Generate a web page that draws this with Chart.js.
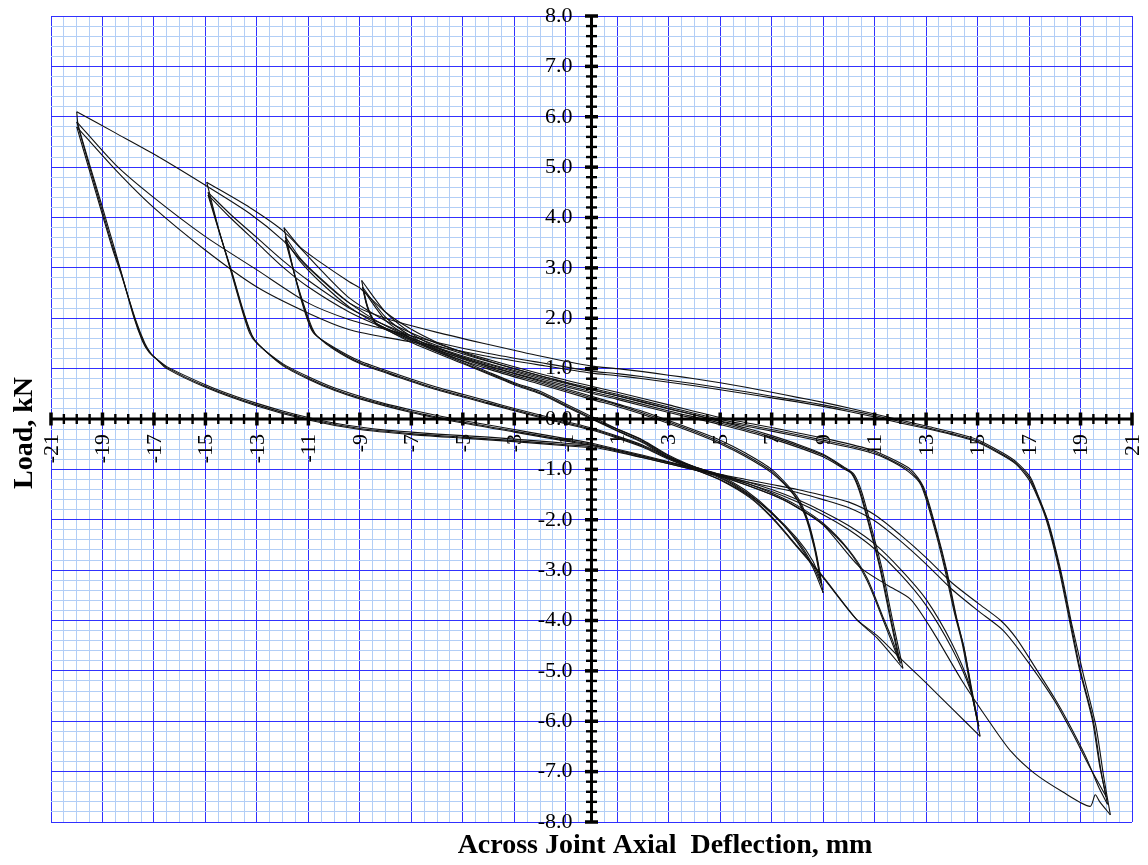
<!DOCTYPE html>
<html>
<head>
<meta charset="utf-8">
<script src="https://cdn.jsdelivr.net/npm/chart.js@4.4.1/dist/chart.umd.min.js"></script>
<style>
  html, body { margin: 0; padding: 0; background: #fff; overflow: hidden; }
  #wrap { width: 1148px; height: 865px; }
</style>
</head>
<body>
<div id="wrap"><canvas id="loadChart"></canvas></div>
<script>
// axis ranges and tick steps
const xRange = [-21, 21];
const yRange = [-8, 8];
const xStep = 0.5;
const yStep = 0.2;

// +/-9 mm cycles
const a9Lead = [[0.0,0.0],[1.0,-0.2],[2.0,-0.42],[3.0,-0.72],[4.0,-0.95],[5.0,-1.13],[6.0,-1.42],[7.0,-1.85],[8.0,-2.45],[8.6,-2.95],[9.0,-3.45]];
const a9Up1 = [[9.0,-3.45],[8.75,-2.7],[8.4,-2.0],[8.0,-1.55],[7.0,-1.0],[6.0,-0.68],[5.0,-0.42],[4.0,-0.22],[3.0,-0.03],[2.0,0.15],[1.0,0.3],[0.0,0.45],[-1.0,0.6],[-2.0,0.75],[-3.0,0.9],[-4.0,1.05],[-5.0,1.22],[-6.0,1.42],[-7.0,1.7],[-8.0,2.12],[-8.93,2.75]];
const a9Low1 = [[-8.93,2.75],[-8.75,2.3],[-8.45,1.95],[-8.2,1.85],[-7.0,1.58],[-6.0,1.36],[-5.0,1.15],[-4.0,0.93],[-3.0,0.72],[-2.0,0.55],[-1.0,0.3],[0.0,0.05],[1.0,-0.2],[2.0,-0.43],[3.0,-0.74],[4.0,-0.96],[5.0,-1.15],[6.0,-1.45],[7.0,-1.88],[8.0,-2.42],[8.6,-2.9],[8.95,-3.3]];
const a9Up2 = [[8.95,-3.3],[8.7,-2.62],[8.35,-1.96],[7.9,-1.52],[7.0,-1.04],[6.0,-0.72],[5.0,-0.46],[4.0,-0.25],[3.0,-0.06],[2.0,0.12],[1.0,0.28],[0.0,0.42],[-2.0,0.72],[-4.0,1.02],[-6.0,1.38],[-7.0,1.64],[-8.0,2.02],[-8.9,2.62]];
const a9Low2 = [[-8.9,2.62],[-8.7,2.2],[-8.4,1.9],[-8.1,1.8],[-7.0,1.55],[-5.0,1.12],[-3.0,0.7],[-2.0,0.52],[-1.0,0.27],[0.0,0.02],[1.0,-0.23],[2.0,-0.45],[3.0,-0.76],[4.0,-0.98],[5.0,-1.17],[6.0,-1.47],[7.0,-1.86],[8.0,-2.38],[8.6,-2.82],[8.9,-3.2]];
const a9Up3 = [[8.9,-3.2],[8.65,-2.55],[8.3,-1.92],[7.85,-1.5],[7.0,-1.07],[6.0,-0.75],[5.0,-0.49],[4.0,-0.28],[3.0,-0.09],[2.0,0.09],[1.0,0.25],[0.0,0.39],[-2.0,0.69],[-4.0,0.99],[-6.0,1.34],[-7.0,1.6],[-8.0,1.96],[-8.85,2.55]];
const a9Low3 = [[-8.85,2.55],[-8.65,2.15],[-8.35,1.87],[-8.0,1.78],[-7.0,1.52],[-5.0,1.1],[-3.0,0.68],[-2.0,0.5],[-1.0,0.25],[0.0,0.0],[1.0,-0.24],[2.0,-0.47],[3.0,-0.78],[4.0,-1.0],[5.0,-1.2],[6.15,-1.54],[7.0,-1.94],[8.0,-2.53],[9.0,-3.13],[10.3,-3.98],[11.1,-4.35],[12.1,-4.95]];

// +/-12 mm cycles
const a12Up1 = [[12.1,-4.95],[11.7,-4.0],[11.3,-3.0],[10.9,-2.2],[10.5,-1.45],[10.2,-1.1],[9.8,-0.95],[9.0,-0.7],[8.0,-0.5],[7.0,-0.33],[6.0,-0.18],[5.0,-0.05],[4.0,0.08],[3.0,0.2],[2.0,0.33],[1.0,0.46],[0.0,0.58],[-1.0,0.72],[-2.0,0.86],[-3.0,1.0],[-4.0,1.15],[-5.0,1.32],[-6.0,1.52],[-7.0,1.78],[-8.0,2.12],[-9.0,2.6],[-9.4,2.72],[-10.5,3.1],[-11.3,3.4],[-11.95,3.8]];
const a12Low1 = [[-11.95,3.8],[-11.6,3.0],[-11.3,2.4],[-10.95,1.85],[-10.75,1.68],[-10.0,1.42],[-9.0,1.15],[-7.5,0.88],[-6.0,0.63],[-5.0,0.49],[-4.0,0.35],[-3.0,0.21],[-2.0,0.08],[-1.0,-0.05],[0.0,-0.18],[1.0,-0.34],[2.0,-0.52],[3.0,-0.76],[4.0,-0.95],[5.0,-1.1],[6.0,-1.27],[7.0,-1.47],[8.0,-1.72],[9.0,-2.07],[10.0,-2.6],[10.7,-3.15],[11.3,-3.9],[11.7,-4.4],[12.0,-4.85]];
const a12Up2 = [[12.0,-4.85],[11.65,-4.0],[11.25,-3.0],[10.85,-2.2],[10.45,-1.45],[10.15,-1.1],[9.8,-0.97],[9.0,-0.72],[7.0,-0.36],[5.0,-0.08],[3.0,0.16],[1.0,0.42],[0.0,0.54],[-2.0,0.8],[-4.0,1.08],[-6.0,1.4],[-8.0,1.85],[-9.4,2.3],[-10.5,2.78],[-11.3,3.18],[-11.9,3.62]];
const a12Low2 = [[-11.9,3.62],[-11.55,2.9],[-11.25,2.35],[-10.9,1.82],[-10.7,1.66],[-10.0,1.4],[-9.0,1.12],[-7.5,0.85],[-6.0,0.6],[-4.0,0.32],[-2.0,0.05],[0.0,-0.2],[1.0,-0.36],[2.0,-0.54],[3.0,-0.78],[5.0,-1.12],[7.0,-1.5],[8.0,-1.76],[9.0,-2.1],[10.0,-2.62],[10.7,-3.2],[11.3,-3.95],[11.95,-4.8]];
const a12Up3 = [[11.95,-4.8],[11.6,-3.95],[11.2,-2.95],[10.8,-2.15],[10.4,-1.42],[10.1,-1.08],[9.8,-0.99],[9.0,-0.75],[7.0,-0.39],[5.0,-0.11],[3.0,0.13],[1.0,0.39],[0.0,0.51],[-2.0,0.77],[-4.0,1.05],[-6.0,1.37],[-8.0,1.8],[-9.4,2.22],[-10.5,2.7],[-11.3,3.12],[-11.9,3.55]];
const a12Low3 = [[-11.9,3.55],[-11.5,2.8],[-11.2,2.3],[-10.85,1.8],[-10.65,1.64],[-10.0,1.38],[-9.0,1.1],[-7.5,0.83],[-6.0,0.58],[-4.0,0.3],[-2.0,0.03],[0.0,-0.22],[1.0,-0.38],[2.0,-0.56],[3.0,-0.8],[4.0,-1.0],[5.0,-1.21],[6.15,-1.56],[7.0,-1.96],[8.0,-2.55],[9.0,-3.15],[10.3,-3.98],[11.1,-4.3],[12.0,-4.75],[13.0,-5.24],[14.05,-5.77],[15.1,-6.3]];

// +/-15 mm cycles
const a15Up1 = [[15.1,-6.3],[14.8,-5.5],[14.5,-4.6],[14.2,-3.98],[13.8,-3.0],[13.4,-2.2],[12.9,-1.35],[12.4,-1.0],[11.5,-0.75],[10.8,-0.6],[9.0,-0.38],[7.0,-0.17],[5.0,0.03],[3.0,0.28],[1.0,0.53],[0.0,0.65],[-2.0,0.9],[-4.0,1.18],[-6.0,1.5],[-8.0,1.95],[-9.4,2.4],[-10.5,2.95],[-11.95,3.72],[-13.28,4.2],[-14.95,4.7]];
const a15Low1 = [[-14.95,4.7],[-14.5,3.8],[-14.06,3.02],[-13.6,2.2],[-13.28,1.7],[-13.0,1.5],[-12.0,1.1],[-11.0,0.84],[-10.0,0.62],[-9.0,0.45],[-8.0,0.3],[-7.0,0.18],[-6.0,0.07],[-5.0,-0.03],[-4.0,-0.12],[-3.0,-0.21],[-2.0,-0.3],[-1.0,-0.39],[0.0,-0.48],[1.0,-0.6],[2.0,-0.72],[3.0,-0.85],[4.0,-0.98],[5.0,-1.1],[6.0,-1.24],[7.0,-1.4],[8.0,-1.6],[9.0,-1.84],[10.0,-2.12],[11.0,-2.48],[12.0,-2.98],[13.0,-3.58],[14.0,-4.45],[14.7,-5.3],[15.05,-6.1]];
const a15Up2 = [[15.05,-6.1],[14.75,-5.3],[14.45,-4.5],[14.15,-3.9],[13.75,-2.95],[13.35,-2.15],[12.85,-1.33],[12.35,-1.02],[11.5,-0.78],[10.8,-0.63],[9.0,-0.42],[7.0,-0.21],[5.0,-0.01],[3.0,0.24],[1.0,0.49],[0.0,0.61],[-2.0,0.86],[-4.0,1.14],[-6.0,1.46],[-8.0,1.86],[-9.4,2.2],[-11.0,2.75],[-12.0,3.15],[-13.0,3.6],[-14.0,4.05],[-14.9,4.5]];
const a15Low2 = [[-14.9,4.5],[-14.45,3.7],[-14.0,2.95],[-13.55,2.15],[-13.22,1.68],[-12.95,1.48],[-12.0,1.08],[-11.0,0.81],[-10.0,0.59],[-9.0,0.42],[-7.0,0.15],[-5.0,-0.06],[-3.0,-0.24],[-1.0,-0.42],[0.0,-0.5],[1.0,-0.62],[3.0,-0.87],[5.0,-1.12],[7.0,-1.44],[8.0,-1.65],[9.0,-1.9],[10.0,-2.2],[11.0,-2.58],[12.0,-3.08],[13.0,-3.7],[14.0,-4.55],[14.7,-5.35],[15.0,-6.0]];
const a15Up3 = [[15.0,-6.0],[14.7,-5.25],[14.4,-4.45],[14.1,-3.85],[13.7,-2.92],[13.3,-2.12],[12.8,-1.31],[12.3,-1.04],[11.5,-0.8],[10.8,-0.66],[9.0,-0.45],[7.0,-0.24],[5.0,-0.04],[3.0,0.21],[1.0,0.46],[0.0,0.58],[-2.0,0.83],[-4.0,1.1],[-6.0,1.42],[-8.0,1.8],[-9.4,2.12],[-11.0,2.62],[-12.0,3.02],[-13.0,3.5],[-14.0,3.98],[-14.9,4.45]];
const a15Low3 = [[-14.9,4.45],[-14.4,3.6],[-13.95,2.88],[-13.5,2.1],[-13.18,1.65],[-12.9,1.46],[-12.0,1.06],[-11.0,0.79],[-10.0,0.57],[-9.0,0.4],[-7.0,0.13],[-5.0,-0.08],[-3.0,-0.26],[-1.0,-0.44],[0.0,-0.52],[1.0,-0.64],[3.0,-0.89],[5.0,-1.14],[7.0,-1.5],[8.0,-1.75],[9.0,-2.1],[10.4,-2.93],[11.5,-3.3],[12.4,-3.58],[13.3,-4.25],[14.4,-5.2],[15.5,-6.04],[16.3,-6.6],[17.2,-7.03],[18.3,-7.4],[19.37,-7.69],[19.57,-7.46],[19.75,-7.6],[20.16,-7.86]];

// +/-20 mm cycles
const a20Up1 = [[20.16,-7.86],[19.9,-7.1],[19.6,-6.1],[19.1,-5.05],[18.65,-4.05],[18.25,-3.05],[17.75,-2.05],[17.3,-1.45],[17.03,-1.14],[16.5,-0.85],[16.0,-0.68],[15.0,-0.41],[14.0,-0.26],[13.0,-0.14],[12.0,-0.02],[11.0,0.1],[10.0,0.22],[9.0,0.33],[8.0,0.43],[7.0,0.53],[6.0,0.63],[5.0,0.72],[4.0,0.8],[3.0,0.87],[2.0,0.94],[1.0,1.0],[0.0,1.05],[-2.0,1.25],[-4.0,1.48],[-6.0,1.72],[-8.0,2.0],[-9.4,2.3],[-11.0,3.0],[-12.0,3.55],[-13.28,4.08],[-15.0,4.64],[-17.04,5.27],[-18.5,5.68],[-20.0,6.1]];
const a20Low1 = [[-20.0,6.1],[-19.95,5.85],[-19.5,5.05],[-19.0,4.2],[-18.6,3.5],[-18.33,3.02],[-17.8,2.05],[-17.45,1.55],[-17.2,1.33],[-16.97,1.22],[-16.5,1.04],[-15.0,0.68],[-14.0,0.48],[-13.0,0.31],[-12.0,0.16],[-11.0,0.03],[-10.0,-0.08],[-9.0,-0.16],[-8.0,-0.22],[-7.0,-0.26],[-6.0,-0.3],[-5.0,-0.33],[-4.0,-0.36],[-3.0,-0.4],[-2.0,-0.44],[-1.0,-0.48],[0.0,-0.52],[1.0,-0.62],[2.0,-0.74],[3.0,-0.86],[4.0,-0.98],[5.0,-1.1],[6.0,-1.2],[7.0,-1.3],[8.0,-1.4],[9.0,-1.52],[10.0,-1.65],[11.0,-1.9],[12.0,-2.3],[13.0,-2.75],[14.0,-3.25],[15.0,-3.65],[15.9,-4.0],[16.5,-4.35],[17.2,-4.9],[18.0,-5.55],[18.5,-6.0],[19.2,-6.7],[19.7,-7.3],[20.05,-7.65]];
const a20Up2 = [[20.05,-7.65],[19.8,-7.0],[19.5,-6.0],[19.0,-5.0],[18.6,-4.0],[18.2,-3.0],[17.7,-2.0],[17.25,-1.42],[17.0,-1.16],[16.5,-0.88],[16.0,-0.71],[15.0,-0.44],[14.0,-0.29],[13.0,-0.17],[12.0,-0.05],[11.0,0.07],[10.0,0.18],[9.0,0.28],[8.0,0.37],[7.0,0.45],[6.0,0.54],[5.0,0.62],[4.0,0.7],[3.0,0.77],[2.0,0.84],[1.0,0.9],[0.0,0.95],[-2.0,1.12],[-4.0,1.3],[-6.0,1.52],[-8.0,1.78],[-9.4,1.97],[-11.0,2.3],[-13.0,2.96],[-15.0,3.62],[-17.04,4.41],[-18.5,5.05],[-20.0,5.9]];
const a20Low2 = [[-20.0,5.9],[-19.5,5.0],[-19.0,4.12],[-18.6,3.42],[-18.3,2.95],[-17.75,2.0],[-17.4,1.52],[-17.15,1.31],[-16.92,1.2],[-16.5,1.02],[-15.0,0.65],[-13.0,0.28],[-11.0,0.0],[-9.0,-0.19],[-7.0,-0.29],[-5.0,-0.36],[-3.0,-0.43],[-1.0,-0.51],[0.0,-0.55],[2.0,-0.77],[4.0,-1.01],[6.0,-1.24],[7.0,-1.35],[8.0,-1.46],[9.0,-1.6],[10.0,-1.76],[11.0,-2.02],[12.0,-2.42],[13.0,-2.88],[14.0,-3.38],[15.0,-3.8],[16.0,-4.2],[17.0,-4.85],[18.0,-5.6],[18.7,-6.25],[19.4,-6.95],[20.0,-7.5]];
const a20Up3 = [[20.0,-7.5],[19.75,-6.9],[19.45,-5.95],[18.95,-4.95],[18.55,-3.95],[18.15,-2.95],[17.65,-1.97],[17.2,-1.4],[16.95,-1.17],[16.5,-0.9],[16.0,-0.73],[15.0,-0.46],[14.0,-0.31],[13.0,-0.19],[12.0,-0.08],[11.0,0.04],[10.0,0.15],[9.0,0.25],[8.0,0.34],[7.0,0.42],[6.0,0.5],[5.0,0.58],[4.0,0.66],[3.0,0.73],[2.0,0.8],[1.0,0.86],[0.0,0.91],[-2.0,1.07],[-4.0,1.24],[-6.0,1.44],[-8.0,1.62],[-9.4,1.77],[-11.0,2.1],[-13.0,2.62],[-15.0,3.35],[-17.04,4.21],[-18.5,4.95],[-20.0,5.8]];
const a20Low3 = [[-20.0,5.8],[-19.5,4.92],[-19.0,4.05],[-18.6,3.36],[-18.28,2.88],[-17.7,1.95],[-17.35,1.5],[-17.1,1.29],[-16.88,1.18],[-16.5,1.0],[-15.0,0.63],[-13.0,0.26],[-11.0,-0.02],[-9.0,-0.21],[-7.0,-0.31],[-5.0,-0.38],[-3.0,-0.45],[-1.0,-0.53],[0.0,-0.57]];

const branches = [
  a9Lead, a9Up1, a9Low1, a9Up2, a9Low2, a9Up3, a9Low3,
  a12Up1, a12Low1, a12Up2, a12Low2, a12Up3, a12Low3,
  a15Up1, a15Low1, a15Up2, a15Low2, a15Up3, a15Low3,
  a20Up1, a20Low1, a20Up2, a20Low2, a20Up3, a20Low3
];

const serif = "'Liberation Serif', 'Times New Roman', serif";
const majorGrid = '#3030ff';
const minorGrid = '#b2cef6';

function isWhole(v) {
  return Math.abs(v - Math.round(v)) < 1e-6;
}
function isOddWhole(v) {
  return isWhole(v) && Math.abs(Math.round(v)) % 2 === 1;
}

// tick labels sit next to the axes that cross at the origin; curves are drawn over them
const centerAxes = {
  id: 'centerAxes',
  beforeDatasetsDraw(chart) {
    const { ctx, scales } = chart;
    const x0 = scales.x.getPixelForValue(0);
    const y0 = scales.y.getPixelForValue(0);
    ctx.save();
    ctx.fillStyle = '#000';
    ctx.font = '22px ' + serif;
    ctx.textAlign = 'right';
    ctx.textBaseline = 'middle';
    scales.y.ticks.forEach((t) => {
      if (!isWhole(t.value)) return;
      ctx.fillText(t.value.toFixed(1), x0 - 19, scales.y.getPixelForValue(t.value));
    });
    scales.x.ticks.forEach((t) => {
      if (!isOddWhole(t.value)) return;
      ctx.save();
      ctx.translate(scales.x.getPixelForValue(t.value) + 1, y0 + 15);
      ctx.rotate(-Math.PI / 2);
      ctx.fillText(String(Math.round(t.value)), 0, 0);
      ctx.restore();
    });
    ctx.restore();
  },
  afterDatasetsDraw(chart) {
    const { ctx, chartArea, scales } = chart;
    const x0 = scales.x.getPixelForValue(0);
    const y0 = scales.y.getPixelForValue(0);
    ctx.save();
    ctx.strokeStyle = '#000';
    ctx.lineCap = 'butt';
    ctx.lineWidth = 3;
    ctx.beginPath();
    ctx.moveTo(chartArea.left, y0);
    ctx.lineTo(chartArea.right, y0);
    ctx.moveTo(x0, chartArea.top);
    ctx.lineTo(x0, chartArea.bottom);
    ctx.stroke();

    scales.x.ticks.forEach((t) => {
      const px = scales.x.getPixelForValue(t.value);
      const major = isOddWhole(t.value);
      const half = major ? 6.5 : 5;
      ctx.lineWidth = major ? 3.5 : 2.4;
      ctx.beginPath();
      ctx.moveTo(px, y0 - half);
      ctx.lineTo(px, y0 + half);
      ctx.stroke();
    });
    scales.y.ticks.forEach((t) => {
      const py = scales.y.getPixelForValue(t.value);
      const major = isWhole(t.value);
      const half = major ? 6.5 : 5.5;
      ctx.lineWidth = major ? 3.5 : 2.4;
      ctx.beginPath();
      ctx.moveTo(x0 - half, py);
      ctx.lineTo(x0 + half, py);
      ctx.stroke();
    });
    ctx.restore();
  },
  afterDraw(chart) {
    const { ctx } = chart;
    ctx.save();
    ctx.fillStyle = '#000';
    ctx.font = 'bold 28px ' + serif;
    ctx.textAlign = 'center';
    ctx.textBaseline = 'alphabetic';
    ctx.fillText('Across Joint Axial  Deflection, mm', 665, 853);
    ctx.translate(25, 433);
    ctx.rotate(-Math.PI / 2);
    ctx.textBaseline = 'middle';
    ctx.fillText('Load, kN', 0, 0);
    ctx.restore();
  }
};

new Chart(document.getElementById('loadChart'), {
  type: 'scatter',
  data: {
    datasets: branches.map((b) => ({
      data: b.map(([x, y]) => ({ x, y })),
      showLine: true,
      borderColor: '#111',
      borderWidth: 1.1,
      pointRadius: 0,
      tension: 0.25,
      fill: false
    }))
  },
  options: {
    responsive: true,
    maintainAspectRatio: false,
    animation: false,
    events: [],
    layout: { padding: { left: 51, right: 16, top: 16, bottom: 43 } },
    plugins: { legend: { display: false }, tooltip: { enabled: false } },
    scales: {
      x: {
        type: 'linear',
        min: xRange[0],
        max: xRange[1],
        position: { y: 0 },
        border: { display: false },
        grid: {
          drawTicks: false,
          lineWidth: 1,
          color: (c) => (isOddWhole(c.tick.value) ? majorGrid : minorGrid)
        },
        ticks: { stepSize: xStep, autoSkip: false, display: false }
      },
      y: {
        type: 'linear',
        min: yRange[0],
        max: yRange[1],
        position: { x: 0 },
        border: { display: false },
        grid: {
          drawTicks: false,
          lineWidth: 1,
          color: (c) => (isWhole(c.tick.value) ? majorGrid : minorGrid)
        },
        ticks: { stepSize: yStep, autoSkip: false, display: false }
      }
    }
  },
  plugins: [centerAxes]
});
</script>
</body>
</html>
